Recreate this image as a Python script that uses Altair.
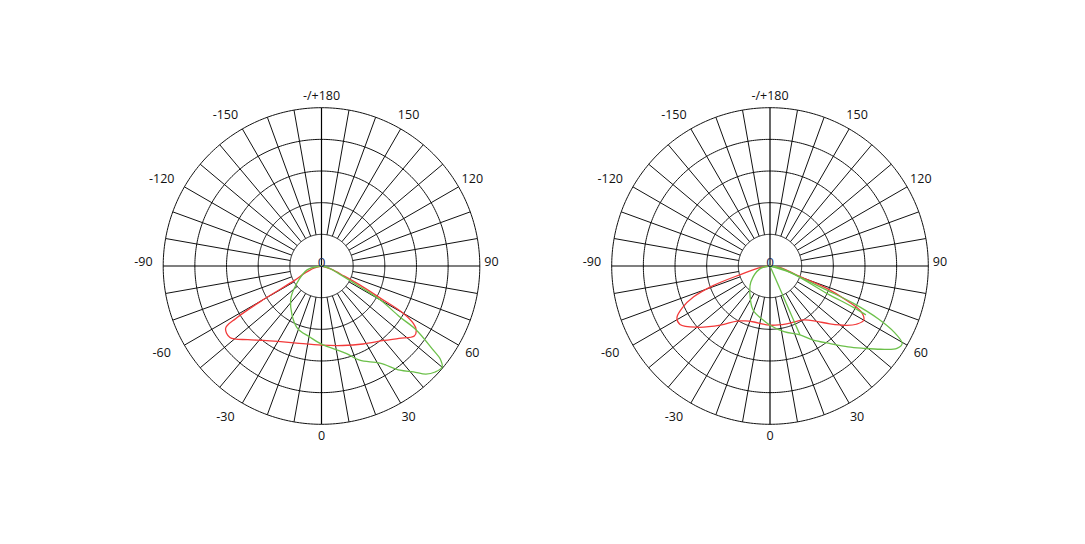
import altair as alt
import numpy as np
import pandas as pd

# ---------------- grid definition ----------------
RING_VALUES = [100, 200, 300, 400, 500]     # intensity rings (outer = 500)
INNER_RING = 100
OUTER_RING = 500
SPOKE_STEP = 10

# cardinal labels (on the axes) and oblique labels
CARD_ANGLES = [0, 180, 90, -90]
CARD_TEXTS = ["0", "-/+180", "90", "-90"]
OBL_ANGLES = [30, 60, 120, 150, -150, -120, -60, -30]
OBL_TEXTS = ["30", "60", "120", "150", "-150", "-120", "-60", "-30"]
CARD_RADIUS = 537
OBL_RADIUS = 550

# ---------------- curves (angle in degrees from nadir, value) ----------------
L_RED_ANG = [-90, -75, -66, -62, -60, -58.5, -57, -52, -45, -38, -30, -18, 0, 15, 28, 40, 47, 53, 56, 58, 60, 61.5, 63.6, 66, 72, 90]
L_RED_VAL = [0, 25, 63, 95, 212, 317, 361, 367, 329, 298, 275, 256, 250, 260, 279, 307, 335, 367, 361, 342, 298, 206, 136, 79, 32, 0]

L_GRN_ANG = [-90, -75, -55, -42, -22, -9, 0, 16, 22, 31, 37, 41, 44, 47, 50, 52, 53, 56, 57, 60, 61.6, 65, 75, 90]
L_GRN_VAL = [0, 47, 95, 146, 209, 228, 247, 288, 321, 358, 412, 443, 475, 491, 497, 475, 443, 361, 294, 215, 138, 70, 25, 0]

R_RED_ANG = [-90, -80, -74, -71, -68, -64.5, -61, -57, -50, -40, -31, -24, -16, 0, 16, 24, 32, 40, 46, 52.4, 56, 60, 63.5, 66, 68.5, 71, 80, 90]
R_RED_VAL = [0, 38, 95, 190, 260, 307, 336, 339, 301, 244, 203, 190, 184, 187, 190, 193, 201, 228, 263, 307, 329, 342, 320, 260, 193, 95, 38, 0]

R_GRN_ANG = [-90, -75, -50, -36, -21, -8, 0, 12, 23.5, 30, 37.8, 44, 48.6, 53, 57, 59.6, 62, 64, 65.9, 67, 70, 80, 90]
R_GRN_VAL = [0, 32, 79, 108, 149, 171, 187, 212, 237, 269, 310, 355, 393, 437, 478, 484, 443, 380, 289, 195, 95, 32, 0]

R_GRN2_ANG = [90, 72, 64.3, 63.6, 63]
R_GRN2_VAL = [0, 70, 199, 294, 340]

R_SPIKE_ANG = [23.5, 23.5]
R_SPIKE_VAL = [0, 237]

RED = "#f23a3a"
GREEN = "#6cc04a"
GRID = "#111111"

# ---------------- build tables ----------------
def curve_rows(panel, series, seg, angs, vals):
    return [dict(panel=panel, series=series, seg=seg, ord=i, ang=a, val=v)
            for i, (a, v) in enumerate(zip(angs, vals))]

rows = []
rows += curve_rows("A", "red", "a_red", L_RED_ANG, L_RED_VAL)
rows += curve_rows("A", "green", "a_grn", L_GRN_ANG, L_GRN_VAL)
rows += curve_rows("B", "red", "b_red", R_RED_ANG, R_RED_VAL)
rows += curve_rows("B", "green", "b_grn", R_GRN_ANG, R_GRN_VAL)
rows += curve_rows("B", "green", "b_grn2", R_GRN2_ANG, R_GRN2_VAL)
rows += curve_rows("B", "green", "b_spike", R_SPIKE_ANG, R_SPIKE_VAL)
curves = pd.DataFrame(rows)

ring_ang = np.arange(0, 361, 1.0)
rings = pd.DataFrame([dict(ring=r, ord=i, ang=a, val=r)
                      for r in RING_VALUES for i, a in enumerate(ring_ang)])

spokes = pd.DataFrame([dict(ang=a, r0=INNER_RING, r1=OUTER_RING)
                       for a in range(-180 + SPOKE_STEP, 180, SPOKE_STEP) if a % 90 != 0])
axes_df = pd.DataFrame([dict(ang=90, r0=-OUTER_RING, r1=OUTER_RING),
                        dict(ang=0, r0=-OUTER_RING, r1=OUTER_RING)])
card = pd.DataFrame(dict(ang=CARD_ANGLES, txt=CARD_TEXTS, val=CARD_RADIUS))
obl = pd.DataFrame(dict(ang=OBL_ANGLES, txt=OBL_TEXTS, val=OBL_RADIUS))
center_lbl = pd.DataFrame(dict(ang=[0], val=[0], txt=["0"]))

# ---------------- layout ----------------
W = 420
PX_PER_UNIT = 158.3 / OUTER_RING
D = (W / 2) / PX_PER_UNIT
SC = alt.Scale(domain=[-D, D], nice=False, zero=False)
FONT = "Open Sans"
FS = 12.5

XY = dict(x="datum.val * sin(datum.ang * PI / 180)",
          y="-datum.val * cos(datum.ang * PI / 180)")
SEG = dict(x="datum.r0 * sin(datum.ang * PI / 180)",
           y="-datum.r0 * cos(datum.ang * PI / 180)",
           x2="datum.r1 * sin(datum.ang * PI / 180)",
           y2="-datum.r1 * cos(datum.ang * PI / 180)")
X = alt.X("x:Q", scale=SC, axis=None)
Y = alt.Y("y:Q", scale=SC, axis=None)


def text_layer(df, filt, dx=0, dy=0, color="#111111", baseline="middle", size=FS):
    return alt.Chart(df).transform_calculate(**XY).transform_filter(filt).mark_text(
        font=FONT, fontSize=size, color=color, align="center", baseline=baseline, dx=dx, dy=dy
    ).encode(x=X, y=Y, text="txt:N")


def panel(p):
    ring_layer = alt.Chart(rings).transform_calculate(**XY).mark_line(
        color=GRID, strokeWidth=1.0
    ).encode(x=X, y=Y, detail="ring:N", order="ord:Q")
    spoke_layer = alt.Chart(spokes).transform_calculate(**SEG).mark_rule(
        color=GRID, strokeWidth=1.0
    ).encode(x=X, y=Y, x2="x2:Q", y2="y2:Q")
    axis_layer = alt.Chart(axes_df).transform_calculate(**SEG).mark_rule(
        color="#000000", strokeWidth=1.2
    ).encode(x=X, y=Y, x2="x2:Q", y2="y2:Q")
    curve_layer = alt.Chart(curves[curves.panel == p]).transform_calculate(**XY).mark_line(
        strokeWidth=1.3, interpolate="catmull-rom"
    ).encode(
        x=X, y=Y,
        color=alt.Color("series:N", scale=alt.Scale(domain=["red", "green"], range=[RED, GREEN]), legend=None),
        detail="seg:N", order="ord:Q",
    )
    lbl_vert = text_layer(card, "datum.ang == 0 || datum.ang == 180")
    lbl_pos90 = text_layer(card, "datum.ang == 90", dy=-4)
    lbl_neg90 = text_layer(card, "datum.ang == -90", dx=-8, dy=-4)
    lbl_right = text_layer(obl, "datum.ang > 0")
    lbl_left = text_layer(obl, "datum.ang < 0", dx=-9)
    center_layer = text_layer(center_lbl, "true", dy=1, color="#1b2a55",
                              baseline="alphabetic", size=13.5)
    return alt.layer(
        ring_layer, spoke_layer, axis_layer, curve_layer,
        lbl_vert, lbl_pos90, lbl_neg90, lbl_right, lbl_left, center_layer,
    ).properties(width=W, height=W)


chart = alt.hconcat(panel("A"), panel("B"), spacing=28.5).properties(
    padding={"left": 103.5, "top": 48, "right": 5, "bottom": 5},
    background="white",
).configure_view(stroke=None)

chart.save("out.html", embed_options={"renderer": "svg", "actions": False})
